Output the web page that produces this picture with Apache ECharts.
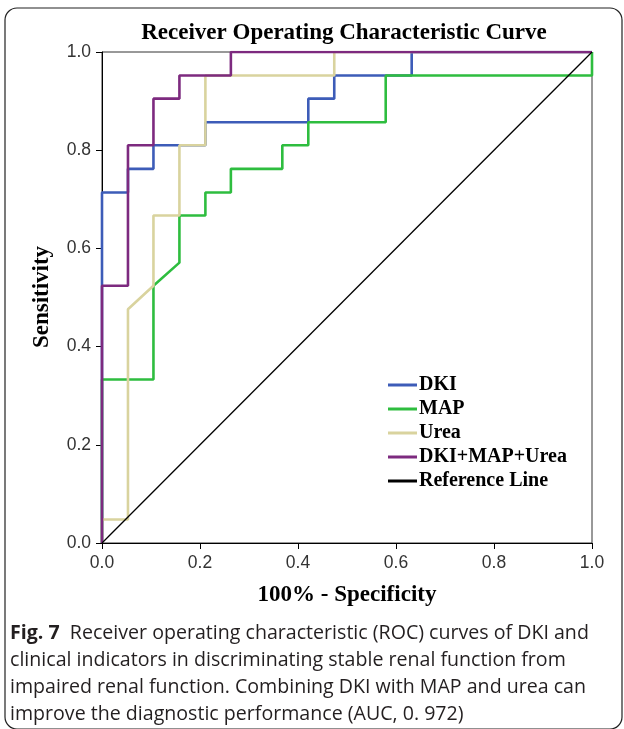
<!DOCTYPE html>
<html>
<head>
<meta charset="utf-8">
<script src="https://cdn.jsdelivr.net/npm/echarts@6/dist/echarts.min.js"></script>
<style>
  html, body { margin: 0; padding: 0; background: #fff; }
  #chart { width: 624px; height: 729px; }
</style>
</head>
<body>
<div id="chart"></div>
<script>
// ROC points (x = 1 - specificity, y = sensitivity)
const dkiX = [0, 0, 0.053, 0.053, 0.105, 0.105, 0.211, 0.211, 0.421, 0.421, 0.474, 0.474, 0.632, 0.632, 1]
const dkiY = [0, 0.714, 0.714, 0.762, 0.762, 0.810, 0.810, 0.857, 0.857, 0.905, 0.905, 0.952, 0.952, 1, 1]

const mapX = [0, 0, 0.105, 0.105, 0.158, 0.158, 0.211, 0.211, 0.263, 0.263, 0.368, 0.368, 0.421, 0.421, 0.579, 0.579, 1, 1]
const mapY = [0, 0.333, 0.333, 0.524, 0.571, 0.667, 0.667, 0.714, 0.714, 0.762, 0.762, 0.810, 0.810, 0.857, 0.857, 0.952, 0.952, 1]

const ureaX = [0, 0, 0.053, 0.053, 0.105, 0.105, 0.158, 0.158, 0.211, 0.211, 0.474, 0.474, 1]
const ureaY = [0, 0.048, 0.048, 0.476, 0.524, 0.667, 0.667, 0.810, 0.810, 0.952, 0.952, 1, 1]

const comboX = [0, 0, 0.053, 0.053, 0.105, 0.105, 0.158, 0.158, 0.263, 0.263, 1]
const comboY = [0, 0.524, 0.524, 0.810, 0.810, 0.905, 0.905, 0.952, 0.952, 1, 1]

const refX = [0, 1]
const refY = [0, 1]

const seriesNames = ["DKI", "MAP", "Urea", "DKI+MAP+Urea", "Reference Line"]
const seriesColors = ["#3d5cb8", "#2ebd3f", "#d9d39e", "#7d2a7f", "#000000"]

const captionLines = [
  "Receiver operating characteristic (ROC) curves of DKI and",
  "clinical indicators in discriminating stable renal function from",
  "impaired renal function. Combining DKI with MAP and urea can",
  "improve the diagnostic performance (AUC, 0. 972)"
]

function pairs(xs, ys) {
  return xs.map((x, i) => [x, ys[i]])
}

const serif = "Liberation Serif, Times New Roman, serif"
const sans = "Liberation Sans, Arial, sans-serif"
const capFont = "Open Sans, Noto Sans, sans-serif"

const chart = echarts.init(document.getElementById("chart"), null, { renderer: "canvas" })

const allData = [pairs(dkiX, dkiY), pairs(mapX, mapY), pairs(ureaX, ureaY), pairs(comboX, comboY), pairs(refX, refY)]

const series = allData.map((d, i) => ({
  name: seriesNames[i],
  type: "line",
  data: d,
  showSymbol: false,
  symbol: "none",
  animation: false,
  lineStyle: { color: seriesColors[i], width: i === 4 ? 1.3 : 2.6 },
  itemStyle: { color: seriesColors[i] },
  z: 2 + i
}))

const captionGraphics = captionLines.map((t, i) => ({
  type: "text",
  left: 10,
  top: 620 + i * 27,
  style: {
    text: i === 0 ? "{b|Fig. 7}  " + t : t,
    font: "19.6px " + capFont,
    lineHeight: 27,
    fill: "#231f20",
    rich: {
      b: { fontFamily: capFont, fontWeight: "bold", fontSize: 19.6, lineHeight: 27, fill: "#231f20" }
    }
  }
}))

chart.setOption({
  backgroundColor: "#fff",
  animation: false,
  grid: {
    left: 102,
    top: 52,
    right: 32,
    bottom: 186,
    show: true,
    borderColor: "#333",
    borderWidth: 1
  },
  xAxis: {
    type: "value",
    min: 0,
    max: 1,
    interval: 0.2,
    splitLine: { show: false },
    axisLine: { onZero: false, lineStyle: { color: "#000", width: 1 } },
    axisTick: { length: 6, lineStyle: { color: "#000" } },
    axisLabel: {
      margin: 11,
      color: "#333",
      fontFamily: sans,
      fontSize: 17.5,
      formatter: (v) => v.toFixed(1)
    }
  },
  yAxis: {
    type: "value",
    min: 0,
    max: 1,
    interval: 0.2,
    splitLine: { show: false },
    axisLine: { show: true, onZero: false, lineStyle: { color: "#000", width: 1 } },
    axisTick: { show: true, length: 6, lineStyle: { color: "#000" } },
    axisLabel: {
      margin: 11,
      color: "#333",
      fontFamily: sans,
      fontSize: 17.5,
      formatter: (v) => v.toFixed(1)
    }
  },
  legend: {
    orient: "vertical",
    left: 383,
    top: 370,
    icon: "rect",
    itemWidth: 29,
    itemHeight: 3,
    itemGap: 4,
    data: seriesNames,
    textStyle: {
      fontFamily: serif,
      fontWeight: "bold",
      fontSize: 20,
      color: "#000",
      lineHeight: 20,
      padding: [0, 0, 0, -3]
    }
  },
  series: series,
  graphic: [
    {
      type: "rect",
      shape: { x: 5, y: 8, width: 617, height: 721, r: 12 },
      style: { fill: "none", stroke: "#222", lineWidth: 1.2 },
      silent: true
    },
    {
      type: "text",
      x: 344,
      y: 33,
      style: {
        text: "Receiver Operating Characteristic Curve",
        font: "bold 23px " + serif,
        fill: "#000",
        align: "center",
        verticalAlign: "middle"
      }
    },
    {
      type: "text",
      x: 347,
      y: 595,
      style: {
        text: "100% - Specificity",
        font: "bold 23px " + serif,
        fill: "#000",
        align: "center",
        verticalAlign: "middle"
      }
    },
    {
      type: "text",
      x: 42,
      y: 297,
      rotation: Math.PI / 2,
      style: {
        text: "Sensitivity",
        font: "bold 23px " + serif,
        fill: "#000",
        align: "center",
        verticalAlign: "middle"
      }
    }
  ].concat(captionGraphics)
})
</script>
</body>
</html>
